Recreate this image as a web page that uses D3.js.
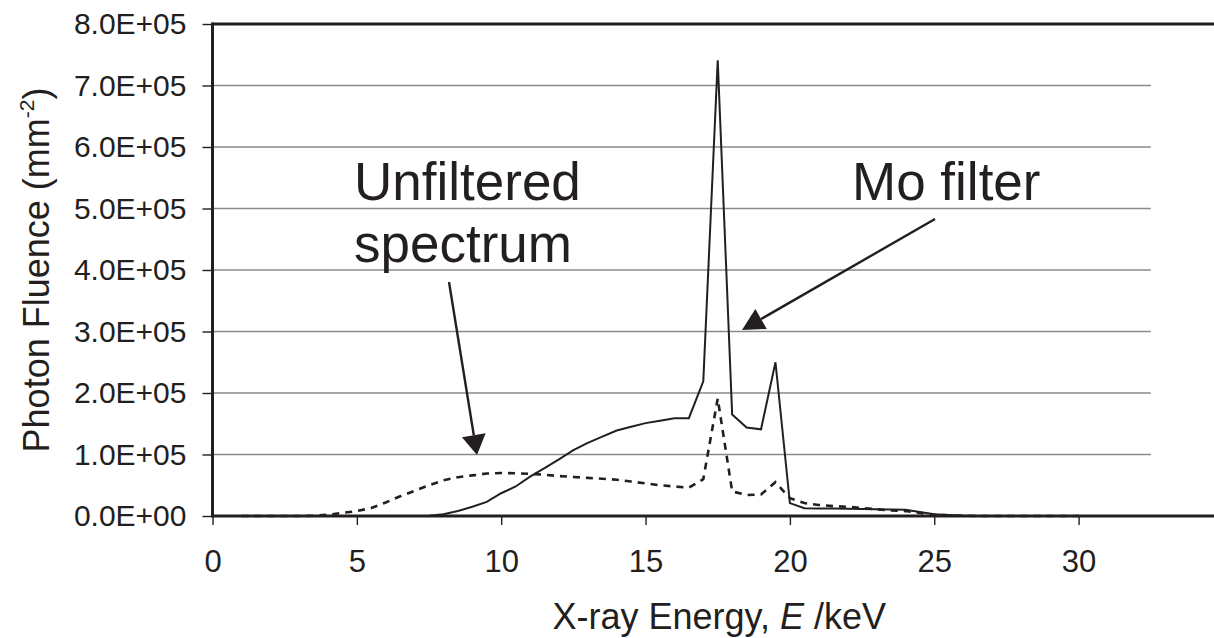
<!DOCTYPE html>
<html>
<head>
<meta charset="utf-8">
<script src="https://cdn.jsdelivr.net/npm/d3@7"></script>
<style>
  body { margin: 0; background: #fff; }
  text { font-family: "Liberation Sans", Arial, Helvetica, sans-serif; fill: #231f20; }
</style>
</head>
<body>
<div id="chart"></div>
<script>
// photon energy, keV
var energy = [1,1.5,2,2.5,3,3.5,4,4.5,5,5.5,6,6.5,7,7.5,8,8.5,9,9.5,10,10.5,
  11,11.5,12,12.5,13,13.5,14,14.5,15,15.5,16,16.5,17,17.5,18,18.5,19,19.5,20,20.5,
  21,21.5,22,22.5,23,23.5,24,24.5,25,25.5,26,26.5,27,27.5,28,28.5,29,29.5,30];

// photon fluence (mm^-2), dashed line
var unfiltered = [0,0,0,0,0,500,2000,5000,
  8000,13000,22000,32000,41000,50000,58000,63000,66000,69000,
  70000,69500,68500,67000,65000,63500,62000,60500,59000,56000,
  53000,50000,48000,46000,60000,191000,40000,34000,35000,55000,
  29000,21000,18000,16000,15000,13000,11000,9000,8000,5000,
  2000,1000,500,0,0,0,0,0,0,0,0];

// photon fluence (mm^-2), solid line
var moFilter = [0,0,0,0,0,0,0,0,
  0,0,0,0,0,500,3000,8000,15000,23000,
  37000,48000,64000,78000,92000,107000,119000,129000,139000,145000,
  151000,155000,159000,159000,219000,741000,165000,144000,141000,250000,
  21000,12500,12300,12000,11800,11500,11000,10700,10300,6500,
  3000,1500,500,0,0,0,0,0,0,0,0];

var xTicks = [0, 5, 10, 15, 20, 25, 30];
var yTicks = [0, 100000, 200000, 300000, 400000, 500000, 600000, 700000, 800000];
var yTickLabels = ["0.0E+00","1.0E+05","2.0E+05","3.0E+05","4.0E+05","5.0E+05","6.0E+05","7.0E+05","8.0E+05"];

var width = 1214, height = 638;
var ink = "#231f20";
var plotLeft = 212.5, plotTop = 24, plotBottom = 516;

var svg = d3.select("#chart").append("svg")
    .attr("width", width)
    .attr("height", height);

var x = d3.scaleLinear().domain([0, 35]).range([plotLeft, plotLeft + 35 * 28.87]);
var y = d3.scaleLinear().domain([0, 800000]).range([plotBottom, plotTop]);
var gridEnd = x(32.5);

// gridlines
svg.append("g").selectAll("line")
    .data(yTicks.slice(1, -1))
    .enter().append("line")
    .attr("x1", plotLeft).attr("x2", gridEnd)
    .attr("y1", function (d) { return y(d); })
    .attr("y2", function (d) { return y(d); })
    .attr("stroke", "#8a8a8a")
    .attr("stroke-width", 1.6);

// y axis
var yAxis = svg.append("g")
    .attr("transform", "translate(" + plotLeft + ",0)")
    .call(d3.axisLeft(y).tickValues(yTicks).tickSize(10).tickSizeOuter(0).tickPadding(16)
        .tickFormat(function (d, i) { return yTickLabels[i]; }));
yAxis.select(".domain").remove();
yAxis.selectAll("line").attr("stroke", ink).attr("stroke-width", 1.4);
yAxis.selectAll("text").attr("font-size", 30).attr("fill", ink)
    .style("font-family", "'Liberation Sans', Arial, sans-serif");

// x axis
var xAxis = svg.append("g")
    .attr("transform", "translate(0," + plotBottom + ")")
    .call(d3.axisBottom(x).tickValues(xTicks).tickSize(9).tickSizeOuter(0).tickPadding(25));
xAxis.select(".domain").remove();
xAxis.selectAll("line").attr("stroke", ink).attr("stroke-width", 1.4);
xAxis.selectAll("text").attr("font-size", 31).attr("fill", ink)
    .style("font-family", "'Liberation Sans', Arial, sans-serif");

// frame lines
svg.append("line").attr("x1", plotLeft).attr("x2", width).attr("y1", plotTop).attr("y2", plotTop)
    .attr("stroke", ink).attr("stroke-width", 3);
svg.append("line").attr("x1", plotLeft).attr("x2", width).attr("y1", plotBottom).attr("y2", plotBottom)
    .attr("stroke", ink).attr("stroke-width", 3);
svg.append("line").attr("x1", plotLeft).attr("x2", plotLeft).attr("y1", plotTop - 1.5).attr("y2", plotBottom + 1.5)
    .attr("stroke", ink).attr("stroke-width", 3);

// series
var line = d3.line()
    .x(function (d, i) { return x(energy[i]); })
    .y(function (d) { return y(d); });

svg.append("path").datum(unfiltered)
    .attr("d", line)
    .attr("fill", "none")
    .attr("stroke", ink)
    .attr("stroke-width", 2.6)
    .attr("stroke-dasharray", "7,6");

svg.append("path").datum(moFilter)
    .attr("d", line)
    .attr("fill", "none")
    .attr("stroke", ink)
    .attr("stroke-width", 2)
    .attr("stroke-linejoin", "miter");

// axis titles
svg.append("text")
    .attr("x", 886).attr("y", 629)
    .attr("text-anchor", "end")
    .attr("font-size", 36)
    .html('X-ray Energy, <tspan font-style="italic">E</tspan> /keV');

var yt = svg.append("text")
    .attr("transform", "translate(49,270) rotate(-90)")
    .attr("text-anchor", "middle")
    .attr("font-size", 36);
yt.append("tspan").text("Photon Fluence (mm");
yt.append("tspan").attr("font-size", 21).attr("dy", -15).text("-2");
yt.append("tspan").attr("dy", 15).text(")");

// annotations
function arrow(x1, y1, x2, y2, len, w) {
    var dx = x2 - x1, dy = y2 - y1, L = Math.sqrt(dx * dx + dy * dy);
    var ux = dx / L, uy = dy / L;
    var bx = x2 - ux * len, by = y2 - uy * len;
    svg.append("line").attr("x1", x1).attr("y1", y1).attr("x2", bx).attr("y2", by)
        .attr("stroke", ink).attr("stroke-width", 2.4);
    svg.append("polygon")
        .attr("points", [[x2, y2], [bx - uy * w / 2, by + ux * w / 2], [bx + uy * w / 2, by - ux * w / 2]].join(" "))
        .attr("fill", ink);
}

svg.append("text").attr("x", 354).attr("y", 200).attr("font-size", 53).text("Unfiltered");
svg.append("text").attr("x", 354).attr("y", 262).attr("font-size", 53).text("spectrum");
svg.append("text").attr("x", 852).attr("y", 200).attr("font-size", 53).text("Mo filter");

arrow(449, 282, 477, 455, 20, 24);
arrow(935, 219, 742, 330, 22, 23);
</script>
</body>
</html>
